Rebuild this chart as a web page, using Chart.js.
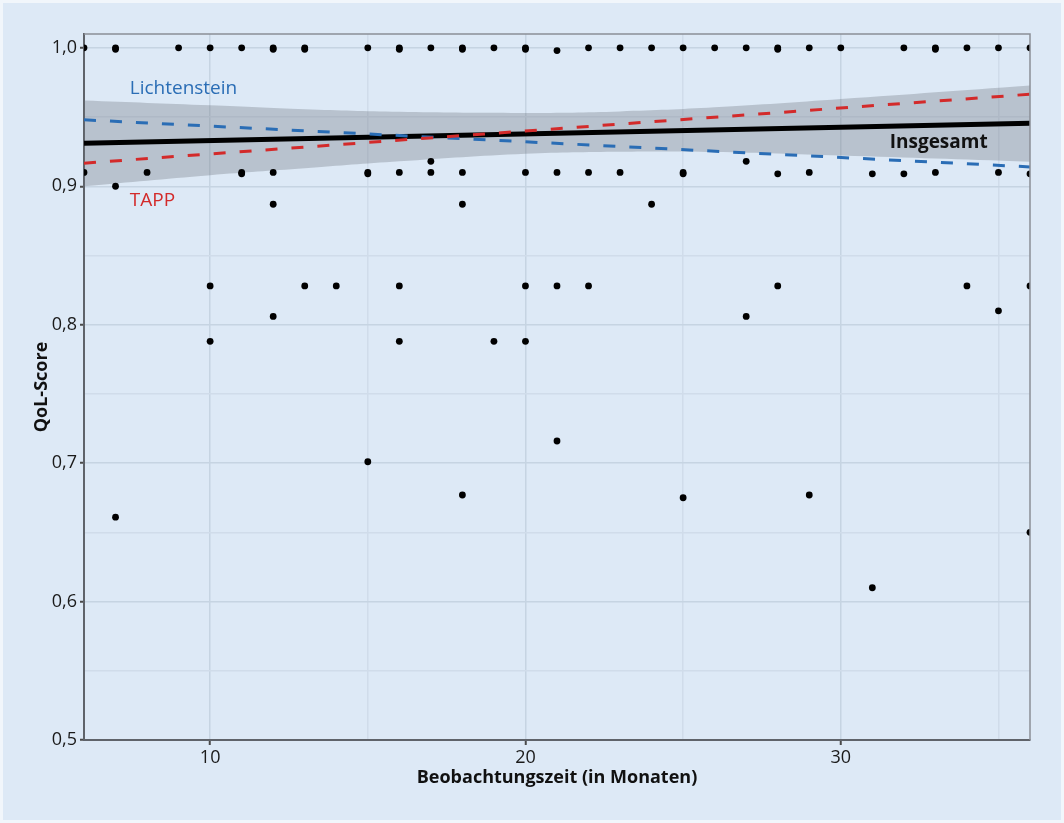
<!DOCTYPE html>
<html>
<head>
<meta charset="utf-8">
<script src="https://cdn.jsdelivr.net/npm/chart.js@4"></script>
<style>
  html, body { margin: 0; padding: 0; background: #eef4fa; }
  #wrap { width: 1064px; height: 823px; }
</style>
</head>
<body>
<div id="wrap"><canvas id="qolChart" width="1064" height="823"></canvas></div>
<script>
// Einzelwerte (Beobachtungszeit in Monaten / QoL-Score)
const months = [
    6, 7, 9, 10, 11, 12, 13, 15, 16, 17, 18, 19, 20, 21, 22, 23, 24, 25, 26, 27, 28, 29, 30, 32, 33, 34, 35, 36,
    7, 12, 13, 16, 18, 20, 28, 33,
    6, 8, 11, 12, 15, 16, 17, 18, 20, 21, 22, 23, 25, 28, 29, 31, 32, 33, 35, 36, 11, 15, 25,
    17, 27, 7, 12, 18, 24,
    10, 13, 14, 16, 20, 21, 22, 28, 34, 36,
    12, 27, 35, 10, 16, 19, 20,
    21, 15, 18, 29, 25, 7, 36, 31
];
const scores = [
    1.0, 1.0, 1.0, 1.0, 1.0, 1.0, 1.0, 1.0, 1.0, 1.0, 1.0, 1.0, 1.0, 0.998, 1.0, 1.0, 1.0, 1.0, 1.0, 1.0, 1.0, 1.0, 1.0, 1.0, 1.0, 1.0, 1.0, 1.0,
    0.999, 0.999, 0.999, 0.999, 0.999, 0.999, 0.999, 0.999,
    0.910, 0.910, 0.909, 0.910, 0.909, 0.910, 0.910, 0.910, 0.910, 0.910, 0.910, 0.910, 0.909, 0.909, 0.910, 0.909, 0.909, 0.910, 0.910, 0.909, 0.910, 0.910, 0.910,
    0.918, 0.918, 0.900, 0.887, 0.887, 0.887,
    0.828, 0.828, 0.828, 0.828, 0.828, 0.828, 0.828, 0.828, 0.828, 0.828,
    0.806, 0.806, 0.810, 0.788, 0.788, 0.788, 0.788,
    0.716, 0.701, 0.677, 0.677, 0.675, 0.661, 0.650, 0.610
];

// Regressionsgeraden
const fitX = [6, 36];
const overall = [0.931, 0.9456];
const lichtenstein = [0.948, 0.914];
const tapp = [0.9167, 0.9665];

// Konfidenzband (Insgesamt)
const bandX = [6, 10, 13, 16, 20, 23, 26, 30, 36];
const bandUpper = [0.962, 0.9585, 0.9556, 0.9538, 0.9530, 0.9541, 0.9570, 0.9630, 0.9728];
const bandLower = [0.900, 0.908, 0.913, 0.9180, 0.9235, 0.9250, 0.9248, 0.9222, 0.9178];

// Achsen
const xTicks = [10, 15, 20, 25, 30, 35];
const xLabelTicks = [10, 20, 30];
const yTicks = [0.5, 0.55, 0.6, 0.65, 0.7, 0.75, 0.8, 0.85, 0.9, 0.95, 1.0];
const yLabelTicks = [0.5, 0.6, 0.7, 0.8, 0.9, 1.0];

const FONT = "'Open Sans', 'Noto Sans', sans-serif";
const BG = "#dde9f6";

const pts = (xs, ys) => xs.map((x, i) => ({ x: x, y: ys[i] }));
const isLabeled = (list, v) => list.some(t => Math.abs(t - v) < 1e-6);

// Hintergrund + Rahmen
const frame = {
    id: "frame",
    beforeDraw(chart) {
        const c = chart.ctx;
        c.save();
        c.fillStyle = "#f1f6fb";
        c.fillRect(0, 0, chart.width, chart.height);
        c.fillStyle = BG;
        c.fillRect(3, 3, chart.width - 6, chart.height - 6);
        c.restore();
    },
    afterDraw(chart) {
        const a = chart.chartArea;
        const c = chart.ctx;
        c.save();
        c.strokeStyle = "#8a8f96";
        c.lineWidth = 1.5;
        c.beginPath();
        c.moveTo(a.left, a.top);
        c.lineTo(a.right, a.top);
        c.lineTo(a.right, a.bottom);
        c.stroke();
        c.restore();
    }
};

// Beschriftungen an den Linien
const lineLabels = [
    { text: "Lichtenstein", x: 7.45, y: 0.9705, color: "#2a6db5", weight: "normal" },
    { text: "TAPP", x: 7.45, y: 0.8895, color: "#d32a2a", weight: "normal" },
    { text: "Insgesamt", x: 31.55, y: 0.9315, color: "#111111", weight: "bold" }
];
const labelPlugin = {
    id: "lineLabels",
    afterDatasetsDraw(chart) {
        const c = chart.ctx;
        const xs = chart.scales.x, ys = chart.scales.y;
        c.save();
        c.textBaseline = "middle";
        c.textAlign = "left";
        lineLabels.forEach(l => {
            c.font = l.weight + " 19px " + FONT;
            c.fillStyle = l.color;
            c.fillText(l.text, xs.getPixelForValue(l.x), ys.getPixelForValue(l.y));
        });
        c.restore();
    }
};

const config = {
    type: "scatter",
    data: {
        datasets: [
            {
                type: "line",
                label: "band-upper",
                data: pts(bandX, bandUpper),
                borderWidth: 0,
                pointRadius: 0,
                tension: 0.4,
                fill: "+1",
                backgroundColor: "rgba(105, 112, 122, 0.32)",
                order: 10,
            },
            {
                type: "line",
                label: "band-lower",
                data: pts(bandX, bandLower),
                borderWidth: 0,
                pointRadius: 0,
                tension: 0.4,
                fill: false,
                order: 9,
            },
            {
                type: "line",
                label: "Insgesamt",
                data: pts(fitX, overall),
                borderColor: "#000000",
                borderWidth: 5,
                pointRadius: 0,
                fill: false,
                order: 5,
            },
            {
                type: "line",
                label: "Lichtenstein",
                data: pts(fitX, lichtenstein),
                borderColor: "#2a6db5",
                borderWidth: 3,
                borderDash: [12, 14],
                pointRadius: 0,
                fill: false,
                order: 4,
            },
            {
                type: "line",
                label: "TAPP",
                data: pts(fitX, tapp),
                borderColor: "#d32a2a",
                borderWidth: 3,
                borderDash: [12, 14],
                pointRadius: 0,
                fill: false,
                order: 3,
            },
            {
                label: "Patienten",
                data: pts(months, scores),
                backgroundColor: "#000000",
                borderColor: "#000000",
                pointRadius: 3.4,
                borderWidth: 0,
                clip: 0,
                order: 1,
            },
        ],
    },
    options: {
        responsive: false,
        animation: false,
        layout: { padding: { top: 34, right: 34, left: 0, bottom: 0 } },
        plugins: {
            legend: { display: false },
            tooltip: { enabled: false },
        },
        scales: {
            x: {
                type: "linear",
                min: 6,
                max: 36,
                afterBuildTicks: s => { s.ticks = xTicks.map(v => ({ value: v })); },
                afterFit: s => { s.height = 83; },
                ticks: {
                    autoSkip: false,
                    maxRotation: 0,
                    padding: 2,
                    color: "#1a1a1a",
                    font: { family: FONT, size: 18 },
                    callback: v => isLabeled(xLabelTicks, v) ? String(v) : "",
                },
                grid: {
                    color: ctx => isLabeled(xLabelTicks, ctx.tick.value) ? "#c6d4e2" : "#d0dcea",
                    lineWidth: 1.5,
                    tickLength: 5,
                    tickColor: ctx => isLabeled(xLabelTicks, ctx.tick.value) ? "#4a4a4a" : "rgba(0,0,0,0)",
                    tickWidth: 2,
                },
                border: { display: true, color: "#5f636a", width: 2 },
                title: {
                    display: true,
                    text: "Beobachtungszeit (in Monaten)",
                    color: "#111111",
                    font: { family: FONT, size: 18, weight: "bold" },
                    padding: { top: 0, bottom: 34 },
                },
            },
            y: {
                type: "linear",
                min: 0.5,
                max: 1.01,
                afterBuildTicks: s => { s.ticks = yTicks.map(v => ({ value: v })); },
                afterFit: s => { s.width = 84; },
                ticks: {
                    autoSkip: false,
                    padding: 3,
                    color: "#1a1a1a",
                    font: { family: FONT, size: 18 },
                    callback: v => isLabeled(yLabelTicks, v) ? v.toFixed(1).replace(".", ",") : "",
                },
                grid: {
                    color: ctx => isLabeled(yLabelTicks, ctx.tick.value) ? "#c6d4e2" : "#d0dcea",
                    lineWidth: 1.5,
                    tickLength: 4,
                    tickColor: ctx => isLabeled(yLabelTicks, ctx.tick.value) ? "#4a4a4a" : "rgba(0,0,0,0)",
                    tickWidth: 2,
                },
                border: { display: true, color: "#5f636a", width: 2 },
                title: {
                    display: true,
                    text: "QoL-Score",
                    color: "#111111",
                    font: { family: FONT, size: 18, weight: "bold" },
                    padding: { top: 31, bottom: 0 },
                },
            },
        },
    },
    plugins: [frame, labelPlugin],
};

const ctx = document.getElementById("qolChart").getContext("2d");
const qolChart = new Chart(ctx, config);
</script>
</body>
</html>
